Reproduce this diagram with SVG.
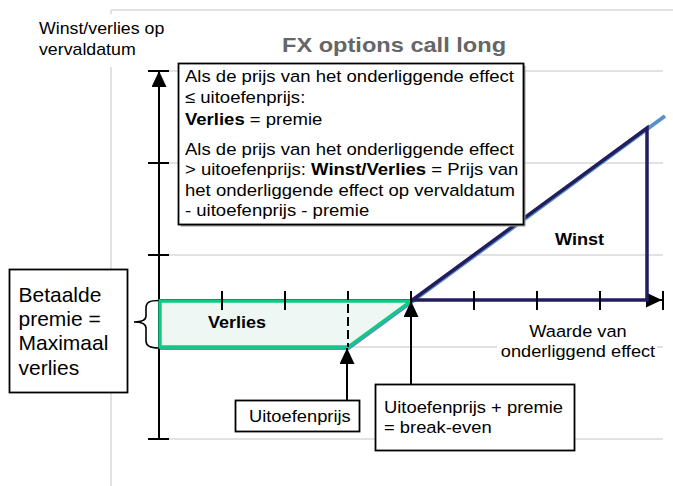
<svg xmlns="http://www.w3.org/2000/svg" width="673" height="486" viewBox="0 0 673 486">
<style>
.t{font-family:"Liberation Sans",Arial,sans-serif;font-size:17px;fill:#000}
.s16{font-size:16px}
.s20{font-size:20px}
.ttl{font-size:20px;font-weight:bold;fill:#666666}
.b{font-weight:bold}
.grid{stroke:#d9d9d9;stroke-width:1.5;fill:none}
.ax{stroke:#000;stroke-width:2;fill:none}
.box{fill:#fff;stroke:#000;stroke-width:1.8}
.navy{stroke:#221d5c;stroke-width:3.5;fill:none;stroke-linejoin:miter}
</style>
<defs>
<marker id="ah" viewBox="0 0 16 15" refX="16" refY="7.5" markerWidth="16" markerHeight="15" orient="auto" markerUnits="userSpaceOnUse">
<path d="M0,0 L16,7.5 L0,15 z" fill="#000"/>
</marker>
</defs>
<rect width="673" height="486" fill="#fff"/>

<g id="grid">
<path class="grid" d="M111,10 H673 M111,10 V486"/>
<path class="grid" d="M169,71 H663 M169,163 H663 M169,255 H663 M169,347 H663 M169,439 H663"/>
</g>

<g id="axis-label">
<rect x="34" y="14" width="140" height="53" fill="#fff"/>
<text class="t s16" transform="translate(39,34) scale(1.11,1)"><tspan x="0" y="0">Winst/verlies op</tspan><tspan x="0" y="21">vervaldatum</tspan></text>
</g>

<g id="title">
<text class="t ttl" transform="translate(282,52) scale(1.18,1)">FX options call long</text>
</g>

<g id="verlies-area">
<path d="M159,301 H411 L348,347 H159 Z" fill="#eef7f3"/>
</g>

<g id="connectors">
<path d="M159,348 H348.5 L411.5,302 L665,116" fill="none" stroke="#5b8fd0" stroke-width="4"/>
<line class="ax" x1="159" y1="439" x2="159" y2="71" marker-end="url(#ah)"/>
<line class="ax" x1="159" y1="300" x2="662" y2="300" marker-end="url(#ah)"/>
<path d="M160,301 H411 L348,347 H160 Z" fill="none" stroke="#12c882" stroke-width="3.4" stroke-linejoin="miter"/>
<path class="navy" d="M411,300 H647 V128 L411,301"/>
<path class="ax" d="M148,71 H169 M148,163 H169 M148,255 H169 M148,439 H169"/>
<path class="ax" d="M222,291 V310 M285,291 V310 M411,291 V310 M474,291 V310 M537,291 V310 M600,291 V310 M663,291 V310"/>
<line x1="348" y1="291" x2="348" y2="347" stroke="#000" stroke-width="2" stroke-dasharray="9,4"/>
<path d="M158.5,300.5 C150,300.5 146,302 146,308 L146,316 C146,320 141,322 134,322 C141,322 146,324 146,328 L146,341 C146,346 150,348 158.5,348" fill="none" stroke="#000" stroke-width="1.6"/>
<line class="ax" x1="347" y1="400" x2="347" y2="348" marker-end="url(#ah)"/>
<line class="ax" x1="411" y1="384" x2="411" y2="301" marker-end="url(#ah)"/>
</g>

<g id="label-verlies">
<text class="t b" transform="translate(208,328) scale(1.06,1)">Verlies</text>
</g>

<g id="label-winst">
<text class="t b" transform="translate(555,245) scale(1.065,1)">Winst</text>
</g>

<g id="label-waarde">
<rect x="497" y="320" width="160" height="42" fill="#fff"/>
<text class="t" text-anchor="middle" transform="translate(578,336.7) scale(1.07,1)"><tspan x="0" y="0">Waarde van</tspan><tspan x="0" y="20.6">onderliggend effect</tspan></text>
</g>

<g id="box-conditions">
<rect x="180.5" y="65.5" width="345" height="161" fill="#9a9a9a"/>
<rect class="box" x="178.5" y="63.5" width="345" height="161"/>
<text class="t" transform="translate(185,82) scale(1.09,1)"><tspan x="0" y="0">Als de prijs van het onderliggende effect</tspan><tspan x="0" y="21.5">≤ uitoefenprijs:</tspan><tspan x="0" y="43" class="b">Verlies</tspan><tspan> = premie</tspan><tspan x="0" y="73">Als de prijs van het onderliggende effect</tspan><tspan x="0" y="93.5">&gt; uitoefenprijs: </tspan><tspan class="b">Winst/Verlies</tspan><tspan> = Prijs van</tspan><tspan x="0" y="114">het onderliggende effect op vervaldatum</tspan><tspan x="0" y="134.5">- uitoefenprijs - premie</tspan></text>
</g>

<g id="box-premie">
<rect class="box" x="9.5" y="269.5" width="118" height="123"/>
<text class="t s20" transform="translate(18.5,301.7) scale(1.05,1)"><tspan x="0" y="0">Betaalde</tspan><tspan x="0" y="24.4">premie =</tspan><tspan x="0" y="48.8">Maximaal</tspan><tspan x="0" y="73.2">verlies</tspan></text>
</g>

<g id="box-uitoefenprijs">
<rect class="box" x="235.5" y="400.5" width="124" height="31"/>
<text class="t" transform="translate(249,422.3) scale(1.077,1)">Uitoefenprijs</text>
</g>

<g id="box-breakeven">
<rect class="box" x="375.5" y="384.5" width="199" height="66"/>
<text class="t" transform="translate(384,412.7) scale(1.08,1)"><tspan x="0" y="0">Uitoefenprijs + premie</tspan><tspan x="0" y="20.6">= break-even</tspan></text>
</g>
</svg>
